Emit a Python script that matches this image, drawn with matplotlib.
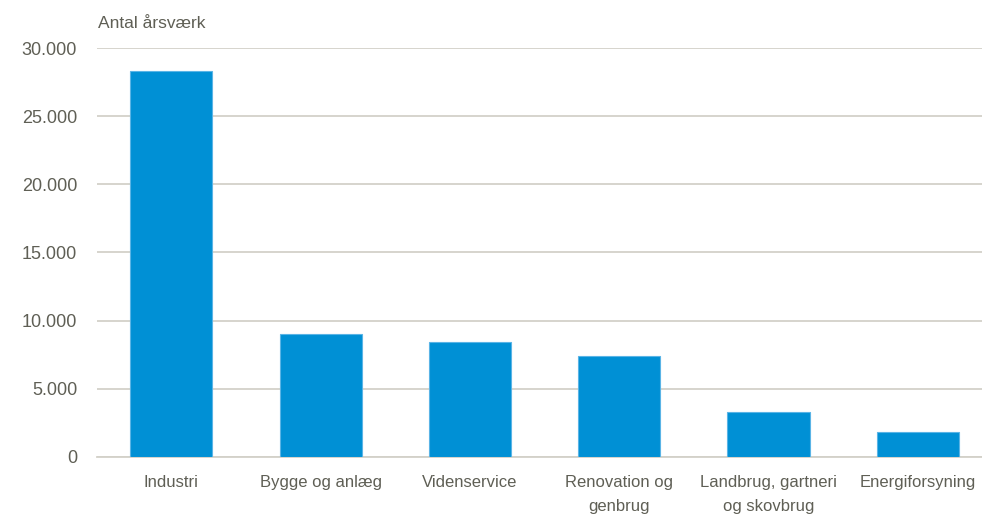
import matplotlib.pyplot as plt
from matplotlib.ticker import FuncFormatter

# Antal årsværk pr. branche
categories = ["Industri", "Bygge og anlæg", "Videnservice",
              "Renovation og\ngenbrug", "Landbrug, gartneri\nog skovbrug", "Energiforsyning"]
values = [28300, 9000, 8450, 7370, 3300, 1830]
yticks = [0, 5000, 10000, 15000, 20000, 25000, 30000]

text_col = "#5f5f55"
plt.rcParams["font.family"] = ["Liberation Sans Narrow", "Liberation Sans", "DejaVu Sans"]

fig = plt.figure(figsize=(9.82, 5.19), dpi=100)
ax = fig.add_axes([0.0984, 0.120, 0.9016, 0.787])

x = range(len(categories))
ax.bar(x, values, width=0.55, color="#0090d5", edgecolor="#5ab4e6", linewidth=0.8, zorder=3)

ax.set_ylim(0, 30000)
ax.set_xlim(-0.5, 5.43)
ax.set_yticks(yticks)
ax.yaxis.set_major_formatter(FuncFormatter(lambda v, p: f"{int(v):,}".replace(",", ".")))
ax.set_xticks(list(x))
ax.set_xticklabels(categories, fontsize=12, color=text_col, linespacing=1.75, va="top")
ax.tick_params(axis="y", labelsize=13, labelcolor=text_col, length=0, pad=14)
ax.tick_params(axis="x", length=0, pad=13)

ax.grid(axis="y", color="#d3d1c9", linewidth=1.3, zorder=0)
for s in ["top", "right", "left"]:
    ax.spines[s].set_visible(False)
ax.spines["bottom"].set_color("#d3d1c9")
ax.spines["bottom"].set_linewidth(1.3)

fig.text(0.0995, 0.955, "Antal årsværk", fontsize=12.5, color=text_col, ha="left", va="center")

fig.savefig("out.png", dpi=100)
